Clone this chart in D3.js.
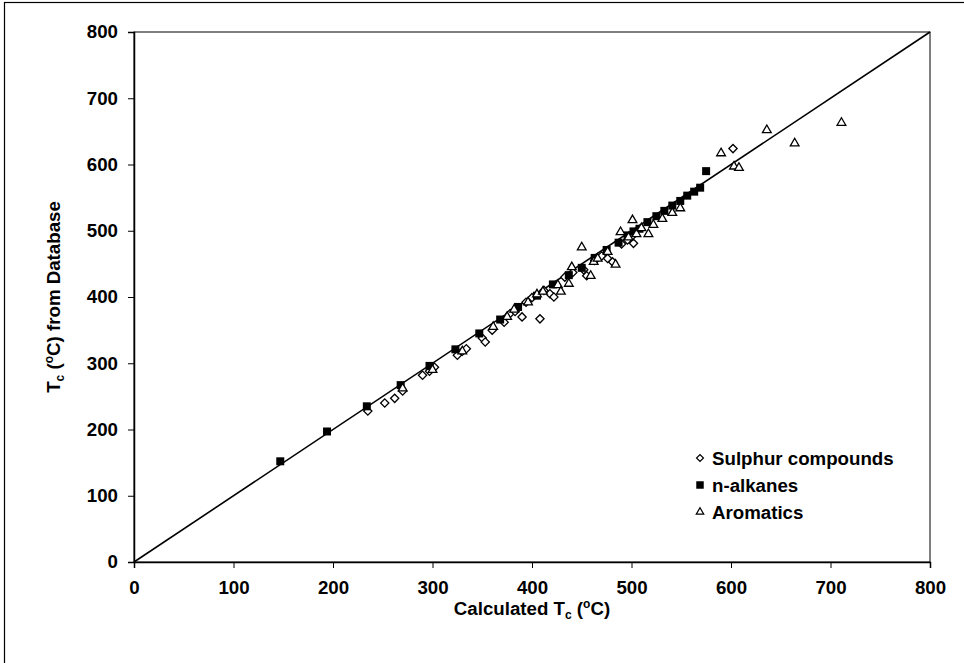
<!DOCTYPE html>
<html>
<head>
<meta charset="utf-8">
<script src="https://cdn.jsdelivr.net/npm/d3@7"></script>
<style>
  body { margin: 0; background: #fff; }
  svg { display: block; font-family: "Liberation Sans", Arial, sans-serif; }
</style>
</head>
<body>
<svg></svg>
<script>
// Chart data (calculated Tc, database Tc) in °C
const sulphur = [
  [235, 228], [252, 240], [262, 247], [270, 258], [290, 282], [297, 288], [302, 294],
  [325, 312], [330, 318], [334, 322], [350, 338], [353, 332], [360, 350], [372, 362],
  [378, 375], [383, 378], [390, 370], [394, 392], [400, 399], [408, 367], [412, 410],
  [418, 405], [422, 400], [433, 430], [441, 437], [452, 441], [455, 432], [463, 455],
  [470, 462], [476, 458], [481, 453], [490, 480], [496, 486], [500, 491], [502, 481],
  [602, 624]
];
const alkanes = [
  [147, 152], [194, 197], [234, 235], [268, 267], [297, 296], [323, 321], [347, 345],
  [368, 366], [386, 385], [405, 402], [421, 419], [437, 433], [450, 444], [463, 459],
  [475, 471], [487, 482], [496, 493], [502, 499], [508, 503], [516, 513], [525, 522],
  [533, 530], [541, 538], [549, 545], [556, 553], [563, 559], [569, 565], [575, 590]
];
const aromatics = [
  [270, 262], [300, 290], [330, 318], [361, 355], [375, 370], [382, 381], [396, 392],
  [405, 404], [411, 408], [426, 418], [429, 408], [437, 420], [440, 445], [450, 475],
  [459, 432], [462, 453], [466, 458], [476, 468], [484, 449], [489, 498], [497, 490],
  [501, 516], [505, 495], [510, 504], [517, 495], [522, 509], [531, 518], [541, 527],
  [549, 534], [590, 617], [603, 597], [608, 595], [636, 652], [664, 632], [711, 663]
];
const ticks = [0, 100, 200, 300, 400, 500, 600, 700, 800];
const legendNames = ["Sulphur compounds", "n-alkanes", "Aromatics"];

const width = 964, height = 663;
const margin = { left: 134, right: 34, top: 32, bottom: 101 };
const plotW = width - margin.left - margin.right;
const plotH = height - margin.top - margin.bottom;
const fontSize = 18.7;

const svg = d3.select("svg")
    .attr("width", width)
    .attr("height", height);

// Outer chart border (cropped on right and bottom)
svg.append("rect")
    .attr("x", 4.5).attr("y", 2.5)
    .attr("width", 1000).attr("height", 700)
    .attr("fill", "none")
    .attr("stroke", "#000")
    .attr("stroke-width", 1.2);

const x = d3.scaleLinear().domain([0, 800]).range([0, plotW]);
const y = d3.scaleLinear().domain([0, 800]).range([plotH, 0]);

const g = svg.append("g")
    .attr("transform", `translate(${margin.left},${margin.top})`);

// Plot frame
g.append("rect")
    .attr("width", plotW).attr("height", plotH)
    .attr("fill", "none")
    .attr("stroke", "#000")
    .attr("stroke-width", 1);

// Axes
const xAxis = g.append("g")
    .attr("transform", `translate(0,${plotH})`)
    .call(d3.axisBottom(x).tickValues(ticks).tickSize(6).tickPadding(13));
const yAxis = g.append("g")
    .call(d3.axisLeft(y).tickValues(ticks).tickSize(6).tickPadding(10));

[xAxis, yAxis].forEach(a => {
  a.select(".domain").attr("stroke", "#000").attr("stroke-width", 1.5);
  a.selectAll(".tick line").attr("stroke", "#000");
  a.selectAll("text")
      .attr("font-family", "'Liberation Sans', Arial, sans-serif")
      .attr("font-size", fontSize)
      .attr("font-weight", "bold")
      .attr("fill", "#000");
});

// 1:1 line
g.append("line")
    .attr("x1", x(0)).attr("y1", y(0))
    .attr("x2", x(800)).attr("y2", y(800))
    .attr("stroke", "#000")
    .attr("stroke-width", 1.6);

// Markers
const diamond = d3.symbol().type(d3.symbolSquare).size(34);
const square = d3.symbol().type(d3.symbolSquare).size(64);
const triangle = d3.symbol().type(d3.symbolTriangle).size(33);

function drawSeries(data, sym, fill, rotate) {
  g.append("g").selectAll("path")
      .data(data)
      .enter()
      .append("path")
      .attr("d", sym)
      .attr("transform", d => `translate(${x(d[0])},${y(d[1])})` + (rotate ? " rotate(45)" : ""))
      .attr("fill", fill)
      .attr("stroke", "#000")
      .attr("stroke-width", fill === "#000" ? 0 : 1.3);
}
drawSeries(sulphur, diamond, "#fff", true);
drawSeries(alkanes, square, "#000", false);
drawSeries(aromatics, triangle, "#fff", false);

// Legend
const legend = svg.append("g").attr("transform", "translate(700,458)");
const legendSyms = [
  { sym: d3.symbol().type(d3.symbolSquare).size(24), fill: "#fff", rotate: true },
  { sym: d3.symbol().type(d3.symbolSquare).size(56), fill: "#000", rotate: false },
  { sym: d3.symbol().type(d3.symbolTriangle).size(24), fill: "#fff", rotate: false }
];
legendNames.forEach((name, i) => {
  const s = legendSyms[i];
  legend.append("path")
      .attr("d", s.sym)
      .attr("transform", `translate(0,${i * 27})` + (s.rotate ? " rotate(45)" : ""))
      .attr("fill", s.fill)
      .attr("stroke", "#000")
      .attr("stroke-width", s.fill === "#000" ? 0 : 1.2);
  legend.append("text")
      .attr("x", 12)
      .attr("y", i * 27 + 6.5)
      .attr("font-size", fontSize)
      .attr("font-weight", "bold")
      .text(name);
});

// Axis titles
const xTitle = svg.append("text")
    .attr("x", margin.left + plotW / 2)
    .attr("y", 615)
    .attr("text-anchor", "middle")
    .attr("font-size", fontSize)
    .attr("font-weight", "bold");
xTitle.append("tspan").text("Calculated T");
xTitle.append("tspan").attr("font-size", 12).attr("dy", 4).text("c");
xTitle.append("tspan").attr("dy", -4).text(" (");
xTitle.append("tspan").attr("font-size", 12).attr("dy", -7).text("o");
xTitle.append("tspan").attr("dy", 7).text("C)");

const yTitle = svg.append("text")
    .attr("transform", `translate(60,${margin.top + plotH / 2}) rotate(-90)`)
    .attr("text-anchor", "middle")
    .attr("font-size", fontSize)
    .attr("font-weight", "bold");
yTitle.append("tspan").text("T");
yTitle.append("tspan").attr("font-size", 12).attr("dy", 4).text("c");
yTitle.append("tspan").attr("dy", -4).text(" (");
yTitle.append("tspan").attr("font-size", 12).attr("dy", -7).text("o");
yTitle.append("tspan").attr("dy", 7).text("C) from Database");
</script>
</body>
</html>
